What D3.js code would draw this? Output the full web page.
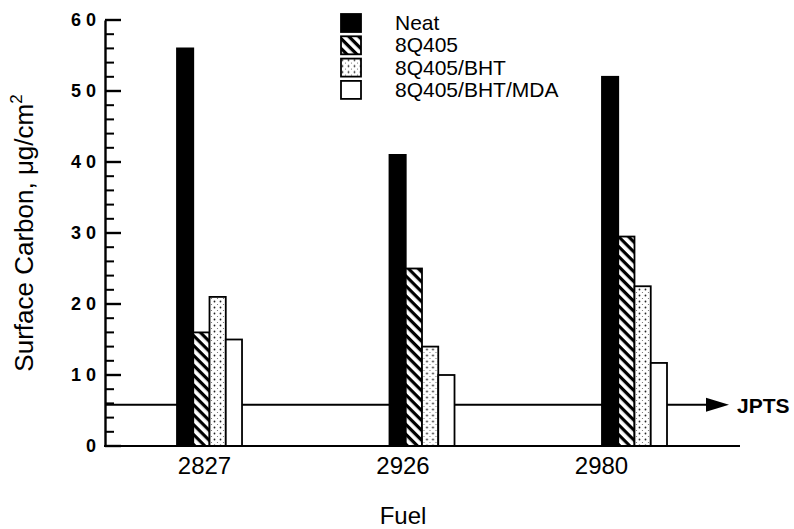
<!DOCTYPE html>
<html>
<head>
<meta charset="utf-8">
<script src="https://cdn.jsdelivr.net/npm/d3@7/dist/d3.min.js"></script>
<style>
  html, body { margin: 0; padding: 0; background: #fff; }
  svg { display: block; font-family: "Liberation Sans", Arial, Helvetica, sans-serif; }
</style>
</head>
<body>
<svg id="chart" width="794" height="529"></svg>
<script>
// Surface carbon deposits per fuel and additive package
const fuels = ["2827", "2926", "2980"];
const seriesNames = ["Neat", "8Q405", "8Q405/BHT", "8Q405/BHT/MDA"];
const neat = [56, 41, 52];
const q405 = [16, 25, 29.5];
const q405Bht = [21, 14, 22.5];
const q405BhtMda = [15, 10, 11.7];
const jptsLevel = 5.8;
const yTicks = [0, 10, 20, 30, 40, 50, 60];
const yMinorTicks = [2, 4, 6, 8, 12, 14, 16, 18, 22, 24, 26, 28, 32, 34, 36, 38, 42, 44, 46, 48, 52, 54, 56, 58];

const seriesValues = [neat, q405, q405Bht, q405BhtMda];
const fills = ["#000", "url(#hatch)", "url(#dots)", "#fff"];

const svg = d3.select("#chart");

// fill patterns: back-slash hatching and a light stipple
const defs = svg.append("defs");
const hatch = defs.append("pattern")
  .attr("id", "hatch").attr("patternUnits", "userSpaceOnUse")
  .attr("width", 7).attr("height", 7)
  .attr("patternTransform", "rotate(45)");
hatch.append("rect").attr("width", 7).attr("height", 7).attr("fill", "#fff");
hatch.append("rect").attr("x", 0).attr("y", 0).attr("width", 7).attr("height", 3.2).attr("fill", "#000");

const dots = defs.append("pattern")
  .attr("id", "dots").attr("patternUnits", "userSpaceOnUse")
  .attr("width", 6).attr("height", 6);
dots.append("rect").attr("width", 6).attr("height", 6).attr("fill", "#fff");
dots.append("circle").attr("cx", 1.5).attr("cy", 1.5).attr("r", 0.9).attr("fill", "#222");
dots.append("circle").attr("cx", 4.5).attr("cy", 4.5).attr("r", 0.6).attr("fill", "#666");

// scales
const y = d3.scaleLinear().domain([0, 60]).range([446, 20]);
const x0 = d3.scaleBand().domain(fuels).range([177, 667]).paddingInner(0.694).paddingOuter(0);
const x1 = d3.scaleBand().domain(seriesNames).range([0, x0.bandwidth()]);
const xLabel = d3.scalePoint().domain(fuels).range([204, 601]);
const axisX = 105, axisRight = 740;

// JPTS reference line with arrow (drawn beneath the bars)
const jy = y(jptsLevel);
svg.append("line")
  .attr("x1", axisX).attr("x2", 710).attr("y1", jy).attr("y2", jy)
  .attr("stroke", "#000").attr("stroke-width", 2);
svg.append("path")
  .attr("d", `M706,${jy - 7}L729,${jy}L706,${jy + 7}Z`)
  .attr("fill", "#000");
svg.append("text")
  .attr("x", 737).attr("y", jy + 8)
  .attr("font-size", 21).attr("font-weight", "bold").attr("fill", "#000")
  .text("JPTS");

// bars
const groups = svg.append("g").selectAll("g")
  .data(fuels)
  .join("g")
  .attr("transform", d => `translate(${x0(d)},0)`);

groups.selectAll("rect")
  .data((f, i) => seriesNames.map((s, k) => ({ s, k, v: seriesValues[k][i] })))
  .join("rect")
  .attr("x", d => x1(d.s))
  .attr("width", x1.bandwidth())
  .attr("y", d => y(d.v))
  .attr("height", d => y(0) - y(d.v))
  .attr("fill", d => fills[d.k])
  .attr("stroke", "#000")
  .attr("stroke-width", 1.8);

// y axis line and labels
const yAxis = svg.append("g")
  .attr("transform", `translate(${axisX},0)`)
  .call(d3.axisLeft(y).tickValues(yTicks).tickSize(0).tickPadding(9));
yAxis.select(".domain").attr("stroke", "#000").attr("stroke-width", 2.4);
yAxis.selectAll(".tick text")
  .attr("font-size", 18).attr("font-weight", "bold").attr("fill", "#000")
  .attr("font-family", "'Liberation Sans', Arial, sans-serif")
  .text(d => String(d).split("").join(" "))
  .attr("x", -9);

// inward-pointing minor and major ticks on the y axis
svg.append("g").selectAll("rect")
  .data(yMinorTicks)
  .join("rect")
  .attr("x", axisX).attr("width", 9)
  .attr("y", d => y(d) - 1).attr("height", 2)
  .attr("fill", "#000");
svg.append("g").selectAll("rect")
  .data(yTicks)
  .join("rect")
  .attr("x", axisX).attr("width", 16)
  .attr("y", d => y(d) - 1.2).attr("height", 2.4)
  .attr("fill", "#000");

// x axis baseline and fuel labels
svg.append("line")
  .attr("x1", axisX - 1).attr("x2", axisRight).attr("y1", y(0)).attr("y2", y(0))
  .attr("stroke", "#000").attr("stroke-width", 2.2);

const xAxis = svg.append("g")
  .attr("transform", `translate(0,${y(0)})`)
  .call(d3.axisBottom(xLabel).tickSize(0).tickPadding(11));
xAxis.select(".domain").remove();
xAxis.selectAll(".tick text")
  .attr("font-size", 24).attr("fill", "#000")
  .attr("font-family", "'Liberation Sans', Arial, sans-serif")
  .attr("dy", "0.72em");

// axis titles
svg.append("text")
  .attr("x", 403).attr("y", 524)
  .attr("text-anchor", "middle").attr("font-size", 24).attr("fill", "#000")
  .text("Fuel");

const yTitle = svg.append("text")
  .attr("transform", "translate(33,233) rotate(-90)")
  .attr("text-anchor", "middle").attr("font-size", 26).attr("fill", "#000");
yTitle.append("tspan").text("Surface Carbon, μg/cm");
yTitle.append("tspan").attr("dy", -11).attr("font-size", 17).text("2");

// legend
const legend = svg.append("g").selectAll("g")
  .data(seriesNames)
  .join("g")
  .attr("transform", (d, i) => `translate(341,${14 + i * 22.3})`);
legend.append("rect")
  .attr("width", 20).attr("height", 18)
  .attr("fill", (d, i) => fills[i])
  .attr("stroke", "#000").attr("stroke-width", 1.8);
legend.append("text")
  .attr("x", 54).attr("y", 16)
  .attr("font-size", 21).attr("fill", "#000")
  .text(d => d);
</script>
</body>
</html>
